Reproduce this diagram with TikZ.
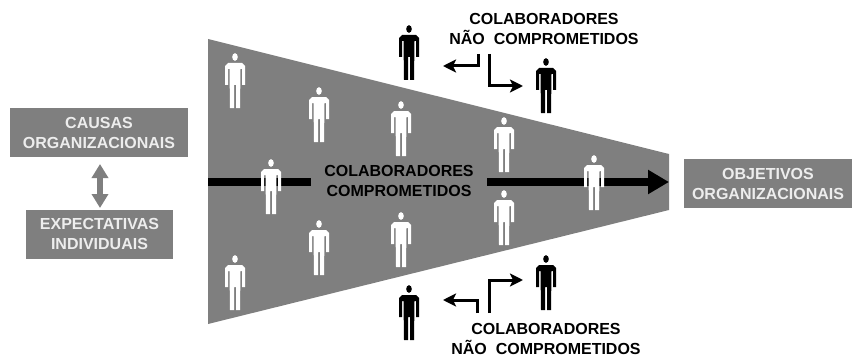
\documentclass[tikz,border=0pt]{standalone}
\usepackage{xcolor}
\usepackage{fontspec}
\setmainfont{Liberation Sans}
\usetikzlibrary{arrows.meta}
\definecolor{funnelgray}{HTML}{7F7F7F}
\definecolor{boxtext}{HTML}{EDEDED}
\tikzset{
  person/.pic = {
    \fill (0,-24) ellipse (2.8 and 3.8);
    \fill (-7,-18) -- (7,-18) -- (10,-15) -- (10,4) -- (7,4) -- (7,-12) -- (5.5,-12) -- (5,27) -- (1,27) -- (1,4)
      -- (-1,4) -- (-1,27) -- (-5,27) -- (-5.5,-12) -- (-7,-12) -- (-7,4) -- (-10,4) -- (-10,-15) -- cycle;
  },
  edge/.style = {draw=black,line width=3pt,-{Stealth[length=13pt,width=13pt,inset=3pt]}}
}

\begin{document}
\begin{tikzpicture}[x=1pt,y=-1pt,
    graybox/.style={fill=funnelgray,text=boxtext,font=\bfseries\fontsize{16}{20}\selectfont,align=center,inner sep=0pt},
    label node/.style={text=black,font=\bfseries\fontsize{16}{20}\selectfont,align=center,inner sep=0pt}]
  \useasboundingbox (0,0) rectangle (857,361);

  \fill[funnelgray] (208,39) -- (669,154) -- (669,210) -- (208,324) -- cycle;

  % central arrow, the label sits on top of it
  \coordinate (start) at (208,182);
  \coordinate (end) at (669,182);
  \draw[line width=8pt,-{Triangle[length=21pt,width=23pt]}] (start) -- (end);
  \node[label node,fill=funnelgray,minimum width=176pt,minimum height=40pt] (committed) at (399,181) {COLABORADORES\\COMPROMETIDOS};

  % people inside
  \foreach \name/\x/\y in {a/235/81,b/319/115,c/401/129,d/504/145,e/271/187,f/594/183,g/504/218,h/401/240,i/319/248,j/235/283}
    \path (\x,\y) pic[white] (\name) {person};

  % people outside
  \foreach \name/\x/\y in {k/409/53,l/546/86,m/409/313,n/546/283}
    \path (\x,\y) pic[black] (\name) {person};

  \node[graybox,minimum width=178pt,minimum height=49pt] (causes) at (99,132.5) {CAUSAS\\ORGANIZACIONAIS};
  \node[graybox,minimum width=147pt,minimum height=49pt] (expect) at (99.5,234) {EXPECTATIVAS\\INDIVIDUAIS};
  \node[graybox,minimum width=168pt,minimum height=49pt] (goals) at (768,183.5) {OBJETIVOS\\ORGANIZACIONAIS};

  \coordinate (up) at (100,164);
  \coordinate (down) at (100,208);
  \draw[funnelgray,line width=6pt,{Triangle[length=14pt,width=16pt]}-{Triangle[length=14pt,width=16pt]}] (up) -- (down);

  \node[label node] (top label) at (544,29) {COLABORADORES\\NÃO\ \ COMPROMETIDOS};
  \node[label node] (bottom label) at (546,339) {COLABORADORES\\NÃO\ \ COMPROMETIDOS};

  \coordinate (t1) at (478,54);
  \coordinate (t2) at (443,66);
  \coordinate (t3) at (489,54);
  \coordinate (t4) at (523,86);
  \coordinate (b1) at (477,313);
  \coordinate (b2) at (443,300);
  \coordinate (b3) at (489,313);
  \coordinate (b4) at (523,280);
  \draw[edge] (t1) |- (t2);
  \draw[edge] (t3) |- (t4);
  \draw[edge] (b1) |- (b2);
  \draw[edge] (b3) |- (b4);
\end{tikzpicture}
\end{document}
